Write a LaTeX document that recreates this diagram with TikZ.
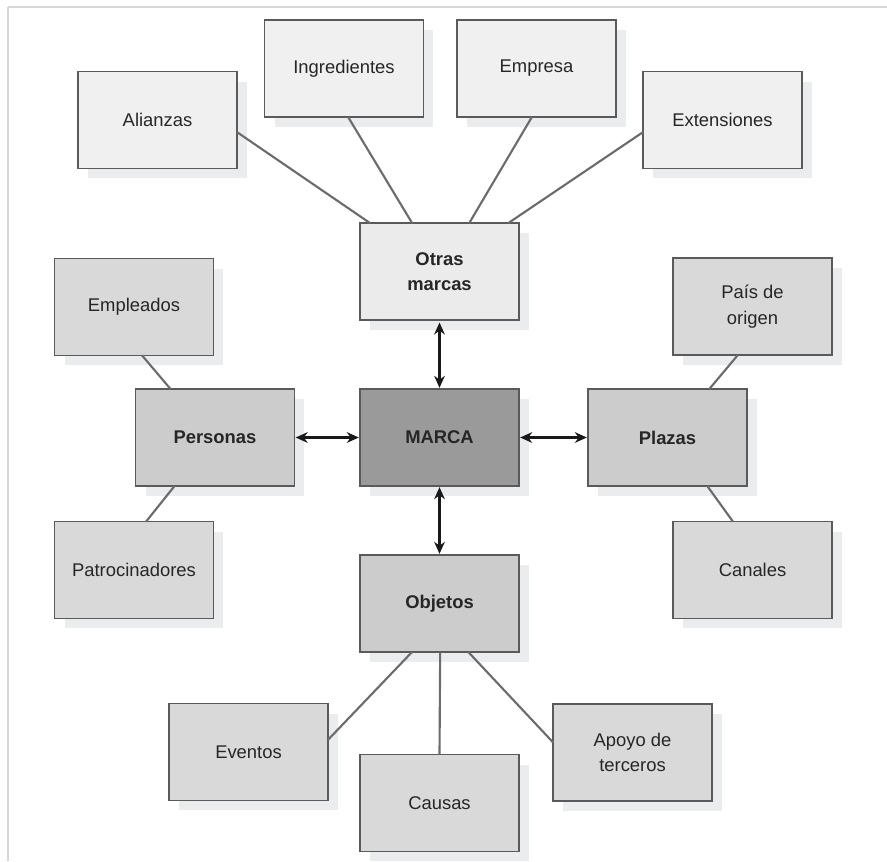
\documentclass[tikz,border=0pt]{standalone}
\usepackage{fontspec}
\setmainfont{Liberation Sans}
\usepackage{tikz}
\usetikzlibrary{calc,shadows,arrows.meta}
\definecolor{cajaclara}{RGB}{240,240,240}
\definecolor{cajaotras}{RGB}{235,235,235}
\definecolor{cajamedia}{RGB}{217,217,217}
\definecolor{cajaeje}{RGB}{204,204,204}
\definecolor{cajamarca}{RGB}{154,154,154}
\definecolor{sombra}{RGB}{234,236,238}
\definecolor{borde}{RGB}{90,90,90}
\definecolor{marco}{RGB}{215,215,215}
\tikzset{
  caja/.style={draw=borde,line width=1.1pt,minimum width=119pt,minimum height=72.5pt,
    inner sep=2pt,outer sep=0pt,align=center,text=black!85,
    font=\fontsize{13.8}{19}\selectfont,
    drop shadow={shadow xshift=7.5pt,shadow yshift=-7.5pt,fill=sombra,opacity=1}},
  clara/.style={caja,fill=cajaclara},
  media/.style={caja,fill=cajamedia},
  eje/.style={caja,fill=cajaeje,font=\fontsize{13.8}{19}\selectfont\bfseries},
  rama/.style={draw=gray!85!black,line width=1.6pt},
  enlace/.style={line width=2pt,black!90,{Stealth[length=9pt,width=8pt]}-{Stealth[length=9pt,width=8pt]}}
}

\begin{document}
\begin{tikzpicture}[x=0.75pt,y=-0.75pt]
\useasboundingbox (0,0) rectangle (887,861);
\draw[marco,line width=1.1pt] (8,7) -- (887,7) (8,7) -- (8,861);

% fila superior
\node[clara] (alianzas) at (157.5,120) {Alianzas};
\node[clara] (ingredientes) at (344,68.5) {Ingredientes};
\node[clara] (empresa) at (536.5,68.5) {Empresa};
\node[clara] (extensiones) at (722.5,120) {Extensiones};
\node[eje,fill=cajaotras] (otras) at (439.5,271.5) {Otras\\marcas};

% centro
\node[eje,fill=cajamarca] (marca) at (439.5,437.5) {MARCA};
\node[eje] (personas) at (215,437.5) {Personas};
\node[eje] (plazas) at (667.5,437.5) {Plazas};
\node[eje] (objetos) at (439.5,603.5) {Objetos};

% laterales
\node[media] (empleados) at (134,307) {Empleados};
\node[media] (patrocinadores) at (134,570) {Patrocinadores};
\node[media] (pais) at (752.5,306.5) {País de\\origen};
\node[media] (canales) at (752.5,570) {Canales};

% fila inferior
\node[media] (eventos) at (248.5,752) {Eventos};
\node[media] (causas) at (439.5,803) {Causas};
\node[media] (apoyo) at (632.5,752.5) {Apoyo de\\terceros};

% ramas
\draw[rama] ($(alianzas.east)+(0,12)$) -- ($(otras.north west)+(10,0)$);
\draw[rama] ($(ingredientes.south)+(4,0)$) -- ($(otras.north west)+(52,0)$);
\draw[rama] ($(empresa.south)+(-4.5,0)$) -- ($(otras.north west)+(109,0)$);
\draw[rama] ($(extensiones.west)+(0,12)$) -- ($(otras.north west)+(148,0)$);
\draw[rama] ($(empleados.south)+(8,0)$) -- ($(personas.north west)+(35,0)$);
\draw[rama] ($(patrocinadores.north)+(12,0)$) -- ($(personas.south west)+(39,0)$);
\draw[rama] ($(pais.south)+(-14.5,0)$) -- ($(plazas.north west)+(121,0)$);
\draw[rama] ($(canales.north)+(-19.5,0)$) -- ($(plazas.south west)+(119,0)$);
\draw[rama] ($(objetos.south west)+(52,0)$) -- ($(eventos.east)+(0,-12)$);
\draw[rama] ($(objetos.south west)+(80,0)$) -- (causas.north);
\draw[rama] ($(objetos.south west)+(108,0)$) -- ($(apoyo.west)+(0,-10)$);

% enlaces con la marca
\draw[enlace,shorten <=2pt,shorten >=1pt] (otras.south) -- (marca.north);
\draw[enlace,shorten <=1pt,shorten >=1pt] (personas.east) -- (marca.west);
\draw[enlace,shorten <=1pt,shorten >=1pt] (marca.east) -- (plazas.west);
\draw[enlace,shorten <=1pt,shorten >=1pt] (marca.south) -- (objetos.north);
\end{tikzpicture}
\end{document}
